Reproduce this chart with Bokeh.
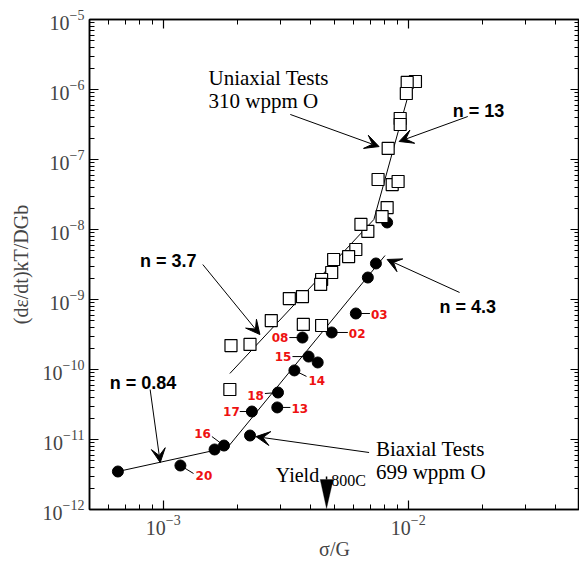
from bokeh.plotting import figure
from bokeh.models import (LogAxis, FixedTicker, Label, Arrow, VeeHead,
                          PolyAnnotation, Range1d, CustomJSTickFormatter)
from bokeh.embed import file_html
from bokeh.resources import INLINE

# ---------------- data ----------------
# Biaxial tests, 699 wppm O (filled circles)
bi_x = [6.53e-4, 1.175e-3, 1.62e-3, 1.77e-3, 2.26e-3, 2.30e-3, 2.94e-3, 2.92e-3,
        3.43e-3, 3.92e-3, 4.27e-3, 3.70e-3, 4.87e-3, 6.11e-3, 6.84e-3, 7.38e-3, 8.2e-3]
bi_y = [3.49e-12, 4.25e-12, 7.2e-12, 8.2e-12, 1.14e-11, 2.51e-11, 4.69e-11, 2.87e-11,
        9.7e-11, 1.53e-10, 1.26e-10, 2.86e-10, 3.38e-10, 6.31e-10, 2.06e-9, 3.27e-9, 1.26e-8]
bi_ids = ["", "20", "", "16", "", "17", "18", "13", "14", "15", "", "08", "02", "03", "", "", ""]

# Uniaxial tests, 310 wppm O (open squares)
uni_x = [1.07e-2, 9.9e-3, 9.82e-3, 9.27e-3, 9.27e-3, 8.28e-3, 7.53e-3, 8.6e-3, 9.09e-3,
         8.2e-3, 7.82e-3, 6.84e-3, 6.41e-3, 6.11e-3, 5.71e-3, 4.96e-3, 4.87e-3, 4.43e-3,
         4.39e-3, 3.70e-3, 3.27e-3, 2.76e-3, 2.26e-3, 1.89e-3, 3.73e-3, 4.43e-3, 1.87e-3]
uni_y = [1.30e-6, 1.26e-6, 8.77e-7, 3.85e-7, 3.16e-7, 1.44e-7, 5.18e-8, 4.39e-8, 4.85e-8,
         2.06e-8, 1.53e-8, 9.4e-9, 1.18e-8, 5.18e-9, 4.11e-9, 3.73e-9, 2.43e-9, 1.93e-9,
         1.64e-9, 1.10e-9, 1.03e-9, 5.0e-10, 2.28e-10, 2.2e-10, 4.4e-10, 4.25e-10, 5.18e-11]

# power-law fit lines (break points)
uni_fit_x = [1.87e-3, 7.24e-3, 1.01e-2]
uni_fit_y = [8.77e-11, 1.39e-8, 9.4e-7]
bi_fit_x = [6.53e-4, 1.83e-3, 8.04e-3]
bi_fit_y = [3.49e-12, 7.69e-12, 4.25e-9]

x_ticks = [1e-3, 1e-2]
y_ticks = [1e-12, 1e-11, 1e-10, 1e-9, 1e-8, 1e-7, 1e-6, 1e-5]
yield_x = 4.64e-3

# ---------------- figure ----------------
SERIF = "Liberation Serif"
SANS = "Liberation Sans"

p = figure(width=579, height=567, x_axis_type="log", y_axis_type="log",
           x_range=Range1d(5e-4, 5e-2), y_range=Range1d(1e-12, 1e-5),
           output_backend="svg", toolbar_location=None,
           min_border_left=89, min_border_top=19, min_border_right=0,
           min_border_bottom=58, background_fill_color="white")
p.xgrid.visible = False
p.ygrid.visible = False
p.outline_line_color = "black"
p.outline_line_width = 1.5

x_minor = [k * 10.0 ** e for e in (-4, -3, -2) for k in range(2, 10)]
y_minor = [k * 10.0 ** e for e in range(-12, -5) for k in range(2, 10)]


def style(ax, labels=True):
    ax.axis_line_width = 1.5
    ax.major_tick_in = 9
    ax.major_tick_out = 0
    ax.minor_tick_in = 5
    ax.minor_tick_out = 0
    ax.major_tick_line_width = 1.2
    ax.minor_tick_line_width = 1
    if labels:
        ax.major_label_text_font = SERIF
        ax.major_label_text_font_size = "20px"
        ax.major_label_standoff = 5
        ax.axis_label_text_font = SERIF
        ax.axis_label_text_font_style = "normal"
        ax.axis_label_text_font_size = "20px"
    else:
        ax.formatter = CustomJSTickFormatter(code="return ''")
        ax.major_label_standoff = 0


p.xaxis.ticker = FixedTicker(ticks=x_ticks, minor_ticks=x_minor)
p.yaxis.ticker = FixedTicker(ticks=y_ticks, minor_ticks=y_minor)
style(p.xaxis[0])
style(p.yaxis[0])
p.xaxis.axis_label = "σ/G"
p.yaxis.axis_label = "(dε/dt)kT/DGb"
p.xaxis.axis_label_standoff = 0
p.yaxis.axis_label_standoff = 8

top = LogAxis(ticker=FixedTicker(ticks=x_ticks, minor_ticks=x_minor))
style(top, labels=False)
p.add_layout(top, "above")
right = LogAxis(ticker=FixedTicker(ticks=y_ticks, minor_ticks=y_minor))
style(right, labels=False)
p.add_layout(right, "right")

# fit lines
p.line(uni_fit_x, uni_fit_y, line_color="black", line_width=1)
p.line(bi_fit_x, bi_fit_y, line_color="black", line_width=1)

# points
p.scatter(bi_x, bi_y, marker="circle", size=11, fill_color="black", line_color="black")
p.scatter(uni_x, uni_y, marker="square", size=12, fill_color="white",
          line_color="black", line_width=1.2)

# red specimen numbers with leader lines (offsets in screen pixels)
PX_DEC_X, PX_DEC_Y = 243.0, 70.0
label_layout = {  # id: (leader dx, leader dy, text dx, text dy, align)
    "20": (13, -8, 15, -10, "left"),
    "16": (-12, 9, -13, 12, "right"),
    "17": (-12, 0, -12, 0, "right"),
    "18": (-13, -1, -14, -3, "right"),
    "13": (13, 0, 14, -1, "left"),
    "14": (12, -6, 14, -10, "left"),
    "15": (-16, 0, -17, 0, "right"),
    "08": (-13, 0, -14, 0, "right"),
    "02": (16, 0, 17, -1, "left"),
    "03": (14, 0, 15, -1, "left"),
}
lx0, ly0, lx1, ly1 = [], [], [], []
for xv, yv, sid in zip(bi_x, bi_y, bi_ids):
    if not sid:
        continue
    ldx, ldy, tdx, tdy, al = label_layout[sid]
    lx0.append(xv)
    ly0.append(yv)
    lx1.append(xv * 10 ** (ldx / PX_DEC_X))
    ly1.append(yv * 10 ** (ldy / PX_DEC_Y))
    p.add_layout(Label(x=xv * 10 ** (tdx / PX_DEC_X), y=yv * 10 ** (tdy / PX_DEC_Y),
                       text=sid, text_align=al, text_baseline="middle",
                       text_color="#ee1111", text_font="DejaVu Sans",
                       text_font_style="bold", text_font_size="12px"))
p.segment(lx0, ly0, lx1, ly1, line_color="black", line_width=1)


# text annotations
def txt(x, y, s, font=SERIF, size="21px", bold=False):
    p.add_layout(Label(x=x, y=y, text=s, text_font=font, text_font_size=size,
                       text_font_style="bold" if bold else "normal",
                       text_color="black", text_baseline="alphabetic"))


txt(1.53e-3, 1.48e-6, "Uniaxial Tests")
txt(1.53e-3, 6.74e-7, "310 wppm O")
txt(7.38e-3, 7.2e-12, "Biaxial Tests")
txt(7.38e-3, 3.49e-12, "699 wppm O")
txt(2.88e-3, 3.16e-12, "Yield", size="20px")
txt(4.85e-3, 2.6e-12, "800C", size="16px")
txt(1.52e-2, 5.0e-7, "n = 13", font=SANS, size="18px", bold=True)
txt(8.04e-4, 3.6e-9, "n = 3.7", font=SANS, size="18px", bold=True)
txt(1.34e-2, 7.69e-10, "n = 4.3", font=SANS, size="18px", bold=True)
txt(6.05e-4, 6.52e-11, "n = 0.84", font=SANS, size="18px", bold=True)


# arrows
def arrow(x0, y0, x1, y1):
    p.add_layout(Arrow(x_start=x0, y_start=y0, x_end=x1, y_end=y1, line_width=1,
                       line_color="black",
                       end=VeeHead(size=14, fill_color="black", line_color="black",
                                   line_width=1)))


arrow(3.30e-3, 4.4e-7, 7.6e-3, 1.53e-7)      # uniaxial tests
arrow(1.75e-2, 4.11e-7, 9.18e-3, 1.81e-7)    # n = 13
arrow(1.45e-3, 3.16e-9, 2.48e-3, 3.16e-10)   # n = 3.7
arrow(1.62e-2, 1.26e-9, 8.2e-3, 3.73e-9)     # n = 4.3
arrow(8.84e-4, 5.18e-11, 9.72e-4, 4.69e-12)  # n = 0.84
arrow(6.92e-3, 6.52e-12, 2.39e-3, 1.10e-11)  # biaxial tests

# yield stress marker (arrow at the axis)
p.segment([yield_x], [2.96e-12], [yield_x], [2.68e-12], line_color="black", line_width=1.5)
p.add_layout(PolyAnnotation(xs=[4.37e-3, 4.94e-3, yield_x], ys=[2.68e-12, 2.68e-12, 1.03e-12],
                            xs_units="data", ys_units="data",
                            fill_color="black", fill_alpha=1, line_color="black"))

open("out.html", "w").write(file_html(p, INLINE))
